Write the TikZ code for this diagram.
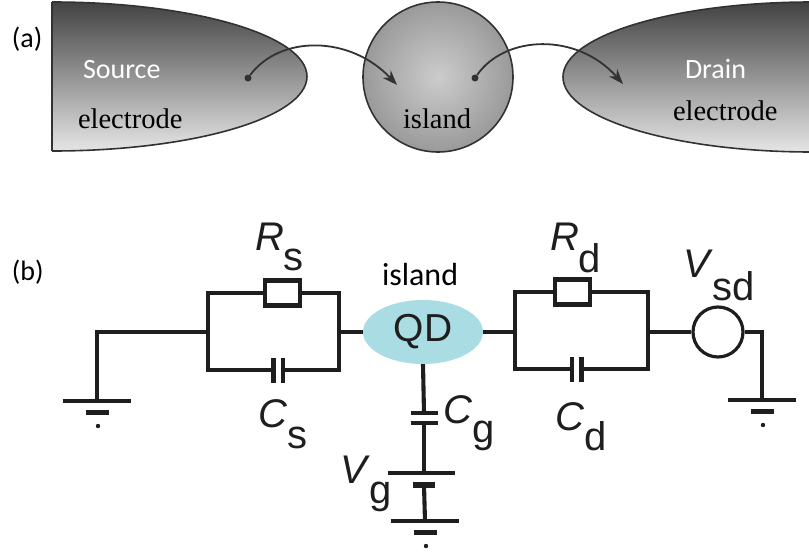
\documentclass[tikz,border=0pt]{standalone}
\usepackage{fontspec}
\setmainfont{Liberation Serif}
\setsansfont{Liberation Sans}
\newfontfamily\calib{Carlito}
\usetikzlibrary{arrows.meta,shapes.geometric}

\definecolor{wirec}{RGB}{30,30,30}
\definecolor{rimc}{RGB}{50,50,50}
\definecolor{qdfill}{RGB}{170,220,228}

% light centre, darker rim for the metal island
\pgfdeclareradialshading{ballshade}{\pgfpoint{0bp}{0bp}}{%
  color(0bp)=(black!20); color(18bp)=(black!34); color(50bp)=(black!60)}

\newcommand{\sublbl}[3]{\textit{#1}\raisebox{-#3}{#2}}

\tikzset{
  txt/.style={inner sep=0pt, outer sep=0pt, anchor=base west},
  rim/.style={draw=rimc, line width=1.6pt},
  tunnel/.style={draw=rimc, line width=1.8pt, -{Stealth[length=15pt,width=11pt]}},
  edot/.style={circle, fill=rimc, inner sep=0pt, minimum size=7pt},
  wire/.style={draw=wirec, line width=4.1pt, line join=miter},
  plate/.style={draw=wirec, line width=4.1pt},
  thickplate/.style={draw=wirec, line width=6.5pt},
  res/.style={rectangle, draw=wirec, line width=4.1pt, minimum width=35pt,
    minimum height=25pt, inner sep=0pt},
  circlbl/.style={txt, font=\sffamily\fontsize{40}{42}\selectfont, text=wirec},
  gnd/.pic={
    \draw[plate] (-34,0) -- (34,0);
    \draw[plate] (-11.5,11.5) -- (11.5,11.5);
    \fill[wirec] (1,25) circle [radius=2.2pt];
  }
}

\begin{document}
\begin{tikzpicture}[x=1pt, y=-1pt]
\useasboundingbox (0,0) rectangle (809,557);

% ---------------- (a) electrodes and island ----------------
\node[txt, font=\calib\fontsize{28}{30}\selectfont] (lbla) at (12,47) {(a)};

% source electrode
\begin{scope}
  \clip (52,0) rectangle (330,160);
  \shade[top color=black!74, bottom color=black!10]
    (52,76.5) ellipse [x radius=255, y radius=74.5];
  \draw[rim] (52,76.5) ellipse [x radius=255, y radius=74.5];
\end{scope}
\draw[rim] (52,2) -- (52,151);
\node[txt, font=\calib\fontsize{28}{30}\selectfont, text=white] (srcname) at (83,78) {Source};
\node[txt, font=\fontsize{28.5}{30}\selectfont] (srcel) at (78,128) {electrode};

% island
\shade[shading=ballshade] (438,77) circle [radius=75];
\draw[rim] (438,77) circle [radius=75];
\node[txt, font=\fontsize{28.5}{30}\selectfont] (islname) at (403,128) {island};

% drain electrode
\begin{scope}
  \clip (540,0) rectangle (809,160);
  \shade[top color=black!74, bottom color=black!10]
    (812,77) ellipse [x radius=249, y radius=75];
  \draw[rim] (812,77) ellipse [x radius=249, y radius=75];
\end{scope}
\node[txt, font=\calib\fontsize{28}{30}\selectfont, text=white] (drname) at (685,78) {Drain};
\node[txt, font=\fontsize{28.5}{30}\selectfont] (drel) at (673,120) {electrode};

% tunnelling electrons
\node[edot] (e1) at (248,78) {};
\coordinate (e1end) at (397,85);
\draw[tunnel] (e1) .. controls (280,35) and (350,35) .. (e1end);
\node[edot] (e2) at (475,78) {};
\coordinate (e2end) at (623,84);
\draw[tunnel] (e2) .. controls (505,35) and (577,32) .. (e2end);

% ---------------- (b) equivalent circuit ----------------
\node[txt, font=\calib\fontsize{28}{30}\selectfont] (lblb) at (12,280) {(b)};

% quantum dot
\node[ellipse, fill=qdfill, minimum width=120pt, minimum height=64pt, inner sep=0pt,
  font=\sffamily\fontsize{39}{40}\selectfont, text=wirec] (qd) at (423,332) {QD};
\node[txt, font=\calib\fontsize{32}{34}\selectfont] (qdname) at (382,285) {island};

% source junction: R_s parallel to C_s
\coordinate (gl) at (97,401);
\coordinate (ljl) at (208,332);
\coordinate (ljr) at (339,332);
\node[res] (rs) at (282.5,293) {};
\coordinate (csa) at (273.5,370);
\coordinate (csb) at (283,370);
\draw[wire] (gl) |- (ljl);
\draw[wire] (ljl) |- (rs.west) (rs.east) -| (ljr);
\draw[wire] (ljl) |- (csa) (csb) -| (ljr);
\draw[plate] ([yshift=12.5pt]csa) -- ([yshift=-12.5pt]csa);
\draw[plate] ([yshift=12.5pt]csb) -- ([yshift=-12.5pt]csb);
\draw[wire] (ljr) -- (qd.west);
\pic at (gl) {gnd};

% drain junction: R_d parallel to C_d
\coordinate (rjl) at (515,332);
\coordinate (rjr) at (648,332);
\node[res] (rd) at (572.5,292) {};
\coordinate (cda) at (572,369);
\coordinate (cdb) at (581.5,369);
\draw[wire] (qd.east) -- (rjl);
\draw[wire] (rjl) |- (rd.west) (rd.east) -| (rjr);
\draw[wire] (rjl) |- (cda) (cdb) -| (rjr);
\draw[plate] ([yshift=12.5pt]cda) -- ([yshift=-12.5pt]cda);
\draw[plate] ([yshift=12.5pt]cdb) -- ([yshift=-12.5pt]cdb);

% bias source V_sd
\node[circle, draw=wirec, line width=3.2pt, minimum size=50pt, inner sep=0pt] (vsd) at (718,332) {};
\coordinate (gr) at (762,400);
\draw[wire] (rjr) -- (vsd.west);
\draw[wire] (vsd.east) -| (gr);
\pic at (gr) {gnd};

% gate: C_g and battery V_g
\coordinate (cga) at (424,413);
\coordinate (cgb) at (424,423);
\coordinate (batp) at (424,473);
\coordinate (batn) at (424,485);
\coordinate (gg) at (425,521);
\draw[wire] (qd.south) -- (cga);
\draw[plate] ([xshift=-13.5pt]cga) -- ([xshift=13.5pt]cga);
\draw[plate] ([xshift=-13.5pt]cgb) -- ([xshift=13.5pt]cgb);
\draw[wire] (cgb) -- (batp);
\draw[plate] ([xshift=-36pt]batp) -- ([xshift=31pt]batp);
\draw[thickplate] ([xshift=-11pt]batn) -- ([xshift=11pt]batn);
\draw[wire] (batn) -- (gg);
\pic at (gg) {gnd};

% component labels
\node[circlbl] (lrs) at (255,250) {\sublbl{R}{s}{20pt}};
\node[circlbl] (lcs) at (258,427) {\sublbl{C}{s}{21pt}};
\node[circlbl] (lrd) at (550,250) {\sublbl{R}{d}{22pt}};
\node[circlbl] (lcd) at (555,430) {\sublbl{C}{d}{20pt}};
\node[circlbl] (lvsd) at (683,277) {\sublbl{V}{sd}{23pt}};
\node[circlbl] (lcg) at (443,423) {\sublbl{C}{g}{19pt}};
\node[circlbl] (lvg) at (340,483) {\sublbl{V}{g}{20pt}};
\end{tikzpicture}
\end{document}
